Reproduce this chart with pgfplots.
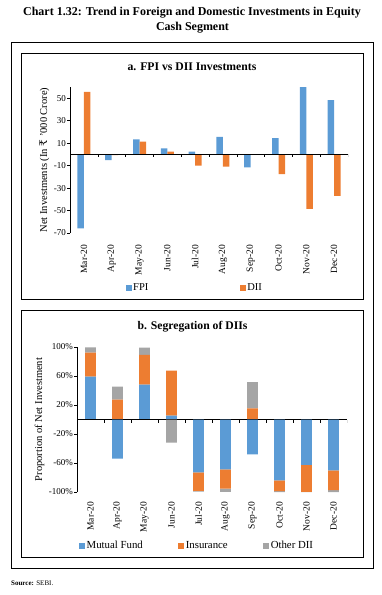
\documentclass[border=0pt]{standalone}
\usepackage{pgfplots}
\pgfplotsset{compat=1.18}
\usepackage{fontspec}
\setmainfont{Liberation Serif}
\newfontfamily\rupeefont{DejaVu Serif}
\definecolor{cblue}{HTML}{5B9BD5}
\definecolor{corange}{HTML}{ED7D31}
\definecolor{cgray}{HTML}{A5A5A5}
\pgfplotsset{
  common/.style={
    scale only axis,
    anchor=south west,
    xmin=-0.5, xmax=9.5,
    axis x line*=bottom, axis y line*=left,
    axis line style={-, black, line width=0.6pt},
    x axis line style={draw=none},
    xtick={0,...,9},
    xticklabels={Mar-20,Apr-20,May-20,Jun-20,Jul-20,Aug-20,Sep-20,Oct-20,Nov-20,Dec-20},
    xticklabel style={rotate=90, anchor=east, inner sep=0pt, font=\fontsize{9.5}{10}\selectfont},
    x tick style={draw=none},
    y tick style={black, line width=0.6pt},
    tick align=outside, major tick length=3pt,
    yticklabel style={font=\fontsize{9}{10}\selectfont, inner sep=1pt},
    /pgf/number format/assume math mode=true,
    ylabel style={font=\fontsize{10.5}{12}\selectfont},
  },
  sqlegend/.style={
    legend image code/.code={\fill[##1] (0pt,-3pt) rectangle (6pt,3pt);},
  },
}
\begin{document}
\begin{tikzpicture}
\path (0pt,0pt) rectangle (382pt,-595pt);
\node[font=\bfseries\fontsize{12}{14}\selectfont] at (192pt,-12.5pt) {Chart 1.32: Trend in Foreign and Domestic Investments in Equity};
\node[font=\bfseries\fontsize{12}{14}\selectfont] at (192.5pt,-28pt) {Cash Segment};
\draw[line width=0.8pt] (11pt,-42pt) rectangle (373pt,-568pt);
\draw[line width=0.8pt] (21pt,-53pt) rectangle (363pt,-299pt);
\draw[line width=0.8pt] (21pt,-310pt) rectangle (363pt,-557pt);
\node[anchor=west, inner sep=0pt, font=\fontsize{7}{8}\selectfont] at (11pt,-583pt) {\textbf{Source:} SEBI.};
\node[font=\bfseries\fontsize{11.7}{13}\selectfont] at (192pt,-67pt) {a. FPI vs DII Investments};
\node[font=\bfseries\fontsize{11.7}{13}\selectfont] at (192.5pt,-327pt) {b. Segregation of DIIs};

% ---------------- Chart a
\begin{axis}[common,
  at={(70pt,-233pt)}, width=278pt, height=146pt,
  ymin=-70, ymax=60,
  ytick={-70,-50,...,50},
  xticklabel shift=9pt,
  ylabel={Net Investments (In {\rupeefont ₹} ’000 Crore)},
  ybar=0pt, bar width=6.5pt,
  sqlegend,
  legend columns=-1,
  legend style={at={(0.448,-0.377)}, anchor=center, draw=none, fill=none,
    font=\fontsize{10.5}{12}\selectfont, inner sep=0pt,
    nodes={inner sep=1.5pt},
    /tikz/every even column/.append style={column sep=90pt}},
]
\addplot[fill=cblue, draw=none] coordinates {
 (0,-65.8) (1,-5.0) (2,13.3) (3,5.3) (4,2.4) (5,15.7) (6,-11.6) (7,14.5) (8,60) (9,48.3)};
\addplot[fill=corange, draw=none] coordinates {
 (0,55.7) (1,-0.6) (2,11.3) (3,2.4) (4,-10.1) (5,-11.0) (6,-0.2) (7,-17.5) (8,-48.6) (9,-37.0)};
\legend{FPI, DII}
\draw[line width=0.6pt] (axis cs:-0.5,0) -- (axis cs:9.5,0);
\pgfplotsinvokeforeach{0.5,1.5,2.5,3.5,4.5,5.5,6.5,7.5,8.5,9.5}{
  \draw[line width=0.6pt] (axis cs:#1,0) -- ++(0pt,-3pt);}
\end{axis}

% ---------------- Chart b (positive parts)
\begin{axis}[common,
  at={(77pt,-492pt)}, width=270pt, height=145pt,
  ymin=-100, ymax=100,
  ytick={-100,-60,-20,20,60,100},
  yticklabel={\pgfmathprintnumber{\tick}\%},
  xticklabel shift=7pt,
  ylabel={Proportion of Net Investment},
  ybar stacked, bar width=10.7pt,
  sqlegend,
  legend columns=-1,
  legend style={at={(0.444,-0.372)}, anchor=center, draw=none, fill=none,
    font=\fontsize{10.8}{12}\selectfont, inner sep=0pt,
    nodes={inner sep=1.5pt},
    /tikz/every even column/.append style={column sep=34pt}},
]
\addplot[fill=cblue, draw=none] coordinates {
 (0,59) (1,0) (2,48) (3,5.5) (4,0) (5,0) (6,0) (7,0) (8,0) (9,0)};
\addplot[fill=corange, draw=none] coordinates {
 (0,33.4) (1,27.5) (2,41) (3,62) (4,0) (5,0) (6,15.5) (7,0) (8,0) (9,0)};
\addplot[fill=cgray, draw=none] coordinates {
 (0,7) (1,18) (2,10) (3,0) (4,0) (5,0) (6,36) (7,0) (8,0) (9,0)};
\legend{Mutual Fund, Insurance, Other DII}
\end{axis}

% ---------------- Chart b (negative parts)
\begin{axis}[common,
  at={(77pt,-492pt)}, width=270pt, height=145pt,
  ymin=-100, ymax=100,
  hide axis,
  ybar stacked, bar width=10.7pt,
]
\addplot[fill=cblue, draw=none] coordinates {
 (0,0) (1,-54) (2,0) (3,0) (4,-73) (5,-68.7) (6,-48) (7,-83.8) (8,-62.7) (9,-70)};
\addplot[fill=corange, draw=none] coordinates {
 (0,0) (1,0) (2,0) (3,0) (4,-25.5) (5,-26.5) (6,0) (7,-15.1) (8,-37.1) (9,-27.5)};
\addplot[fill=cgray, draw=none] coordinates {
 (0,0) (1,0) (2,0) (3,-32) (4,-1) (5,-4.6) (6,0) (7,-1.1) (8,-0.2) (9,-2.5)};
\draw[line width=0.6pt] (axis cs:-0.5,0) -- (axis cs:9.5,0);
\pgfplotsinvokeforeach{0.5,1.5,2.5,3.5,4.5,5.5,6.5,7.5,8.5,9.5}{
  \draw[line width=0.6pt] (axis cs:#1,0) -- ++(0pt,-3pt);}
\end{axis}
\end{tikzpicture}
\end{document}
